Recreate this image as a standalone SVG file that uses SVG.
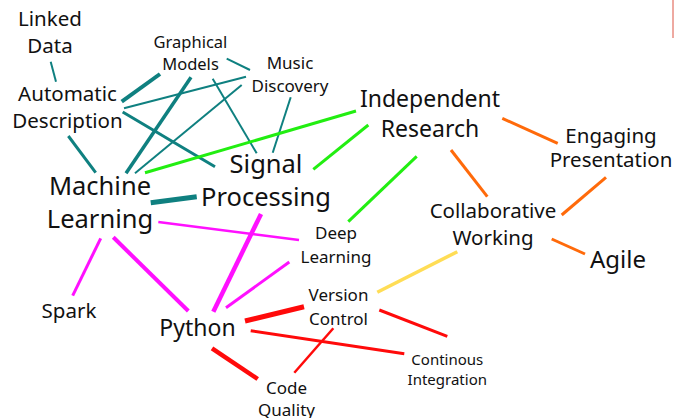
<svg xmlns="http://www.w3.org/2000/svg" width="674" height="418" viewBox="0 0 674 418">
<style>
text{font-family:"Noto Sans","Open Sans","DejaVu Sans",sans-serif;fill:#111;text-anchor:middle}
.s14{font-size:15px}.s15{font-size:16.5px}.s16{font-size:17px}.s19{font-size:20.5px}.s22{font-size:23px}.s24{font-size:25.5px}
line{fill:none;stroke-linecap:butt}
.t{stroke:#0f8080}.g{stroke:#22ee11}.o{stroke:#ff6a0a}.m{stroke:#ff10ff}.r{stroke:#ff0a0a}.y{stroke:#ffdd55}
</style>
<rect width="674" height="418" fill="#fff"/>
<line x1="673" y1="0" x2="673" y2="38" stroke="#dd5544" stroke-width="1"/>
<g id="connectors">
<line class="t" x1="50.7" y1="61.7" x2="56" y2="81.7" stroke-width="2"/>
<line class="t" x1="121.7" y1="101.7" x2="160" y2="74" stroke-width="4"/>
<line class="t" x1="124" y1="108.3" x2="246" y2="76.7" stroke-width="2"/>
<line class="t" x1="122.7" y1="112" x2="215" y2="166.7" stroke-width="3"/>
<line class="t" x1="68.3" y1="136" x2="95.7" y2="172.7" stroke-width="3"/>
<line class="t" x1="191" y1="77.3" x2="126" y2="173.3" stroke-width="3.5"/>
<line class="t" x1="226.7" y1="58.7" x2="250" y2="70" stroke-width="2"/>
<line class="t" x1="212.7" y1="78.7" x2="256.7" y2="153.3" stroke-width="2"/>
<line class="t" x1="241.7" y1="85" x2="135" y2="173.3" stroke-width="2"/>
<line class="t" x1="290.7" y1="97.3" x2="272.7" y2="152.7" stroke-width="2"/>
<line class="t" x1="150.7" y1="202.7" x2="196.7" y2="196.7" stroke-width="5"/>
<line class="g" x1="145" y1="172.7" x2="356" y2="111" stroke-width="3"/>
<line class="g" x1="313.3" y1="169.3" x2="368.3" y2="125" stroke-width="3"/>
<line class="g" x1="416.7" y1="156.3" x2="348.3" y2="221.7" stroke-width="3"/>
<line class="o" x1="502.3" y1="118.3" x2="557.7" y2="143.3" stroke-width="3"/>
<line class="o" x1="451" y1="150" x2="487.3" y2="196.7" stroke-width="3"/>
<line class="o" x1="606" y1="177.3" x2="561.7" y2="215" stroke-width="3"/>
<line class="o" x1="551.7" y1="239" x2="585" y2="254" stroke-width="3"/>
<line class="y" x1="457.3" y1="251.7" x2="377.3" y2="292.3" stroke-width="3.5"/>
<line class="m" x1="100.7" y1="238.3" x2="72.7" y2="295.7" stroke-width="3"/>
<line class="m" x1="113.3" y1="237.3" x2="188.3" y2="311" stroke-width="4"/>
<line class="m" x1="158.3" y1="222" x2="299" y2="240" stroke-width="2.5"/>
<line class="m" x1="261" y1="214" x2="213.3" y2="311.7" stroke-width="4.5"/>
<line class="m" x1="289.3" y1="262" x2="226" y2="307.7" stroke-width="3"/>
<line class="r" x1="245" y1="321" x2="304" y2="306.7" stroke-width="5"/>
<line class="r" x1="212" y1="348.3" x2="257.7" y2="379" stroke-width="4.5"/>
<line class="r" x1="250.7" y1="330.7" x2="404.3" y2="353.7" stroke-width="3"/>
<line class="r" x1="379.3" y1="310" x2="447.3" y2="336.3" stroke-width="3"/>
<line class="r" x1="333.3" y1="328.3" x2="294.3" y2="372.7" stroke-width="2.5"/>
</g>
<g id="linked-data"><text class="s19" x="50" y="26">Linked</text><text class="s19" x="50" y="53">Data</text></g>
<g id="automatic-description"><text class="s19" x="67.5" y="101">Automatic</text><text class="s19" x="67.5" y="128">Description</text></g>
<g id="graphical-models"><text class="s15" x="190.5" y="48">Graphical</text><text class="s15" x="190.5" y="70">Models</text></g>
<g id="music-discovery"><text class="s16" x="290" y="68.5">Music</text><text class="s16" x="290" y="91.5">Discovery</text></g>
<g id="signal-processing"><text class="s24" x="266" y="173.3">Signal</text><text class="s24" x="266" y="205.5">Processing</text></g>
<g id="machine-learning"><text class="s24" x="100" y="195">Machine</text><text class="s24" x="100" y="228.3">Learning</text></g>
<g id="independent-research"><text class="s22" x="430" y="107.3">Independent</text><text class="s22" x="430" y="137.3">Research</text></g>
<g id="engaging-presentation"><text class="s19" x="611" y="143.3">Engaging</text><text class="s19" x="611" y="167.3">Presentation</text></g>
<g id="collaborative-working"><text class="s19" x="493" y="218.3">Collaborative</text><text class="s19" x="493" y="245">Working</text></g>
<g id="agile"><text style="font-size:24px" x="618" y="268.3">Agile</text></g>
<g id="deep-learning"><text class="s16" x="336" y="239.3">Deep</text><text class="s16" x="336" y="262.7">Learning</text></g>
<g id="version-control"><text class="s16" x="338.5" y="301">Version</text><text class="s16" x="338.5" y="325">Control</text></g>
<g id="continous-integration"><text class="s14" x="447.3" y="365">Continous</text><text class="s14" x="447.3" y="385">Integration</text></g>
<g id="spark"><text class="s19" x="69" y="318.3">Spark</text></g>
<g id="python"><text class="s22" x="197.5" y="336">Python</text></g>
<g id="code-quality"><text class="s16" x="286.5" y="394">Code</text><text class="s16" x="286.5" y="415.5">Quality</text></g>
</svg>
